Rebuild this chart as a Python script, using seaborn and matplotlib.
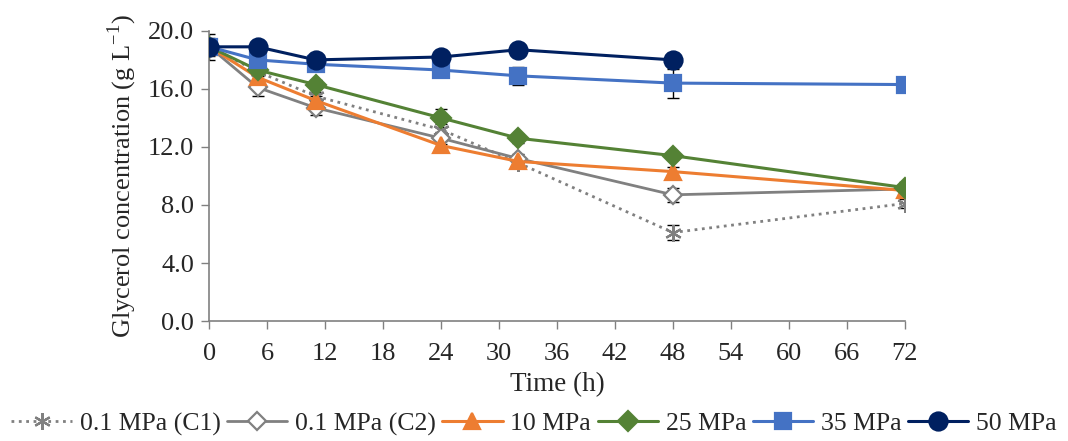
#import libraries
import numpy as np
import pandas as pd
import matplotlib
matplotlib.use('Agg')
import matplotlib.pyplot as plt
import seaborn as sns

#data
time = [0, 5, 11, 24, 32, 48, 72]
time_50 = [0, 5, 11, 24, 32, 48]

c1 = [18.9, 17.2, 15.5, 13.2, 10.9, 6.1, 8.1]
c1_err = [0.4, 0.3, 0.3, 0.4, 0.3, 0.5, 0.3]
c2 = [18.9, 16.1, 14.7, 12.6, 11.2, 8.7, 9.1]
c2_err = [0.6, 0.6, 0.5, 0.4, 0.3, 0.5, 0.3]
p10 = [18.9, 16.8, 15.2, 12.1, 11.0, 10.3, 9.0]
p10_err = [0.4, 0.3, 0.3, 0.3, 0.3, 0.3, 0.3]
p25 = [18.9, 17.3, 16.3, 14.0, 12.6, 11.4, 9.2]
p25_err = [0.4, 0.3, 0.3, 0.6, 0.3, 0.2, 0.4]
p35 = [18.9, 18.0, 17.7, 17.3, 16.9, 16.4, 16.3]
p35_err = [0.4, 0.3, 0.3, 0.3, 0.6, 1.0, 0.5]
p50 = [18.9, 18.9, 18.0, 18.2, 18.7, 18.0]
p50_err = [0.9, 0.2, 0.3, 0.2, 0.2, 0.5]

labels = ['0.1 MPa (C1)', '0.1 MPa (C2)', '10 MPa', '25 MPa', '35 MPa', '50 MPa']

sns.set_style('white')
plt.rcParams['font.family'] = ['Liberation Serif', 'DejaVu Serif']
plt.rcParams['mathtext.fontset'] = 'custom'
plt.rcParams['mathtext.rm'] = 'Liberation Serif'

fig = plt.figure(figsize=(10.68, 4.41), dpi=100)
ax = fig.add_axes([0.196, 0.272, 0.651, 0.658])

series = [
    (time, c1, c1_err, '#808080', ':', (6, 2, 0), '#808080', 12, 2.0),
    (time, c2, c2_err, '#808080', '-', 'D', 'white', 9, 2.0),
    (time, p10, p10_err, '#ED7D31', '-', '^', '#ED7D31', 12, 2.2),
    (time, p25, p25_err, '#548235', '-', 'D', '#548235', 10, 2.2),
    (time, p35, p35_err, '#4472C4', '-', 's', '#4472C4', 11, 2.2),
    (time_50, p50, p50_err, '#002060', '-', 'o', '#002060', 13, 2.2),
]

for (t, y, err, col, ls, mk, fc, ms, lw), lab in zip(series, labels):
    ax.errorbar(t, y, yerr=err, fmt='none', ecolor='black', elinewidth=1.0,
                capsize=4.5, capthick=1.0, zorder=2)
    df = pd.DataFrame({'t': t, 'y': y})
    sns.lineplot(data=df, x='t', y='y', ax=ax, color=col, linestyle=ls,
                 linewidth=lw, marker=mk, markersize=ms, markerfacecolor=fc,
                 markeredgecolor=col, markeredgewidth=1.6, label=lab, zorder=3)

ax.set_xlim(0, 72)
ax.set_ylim(0, 20)
ax.set_xticks(np.arange(0, 73, 6))
ax.set_yticks(np.arange(0, 20.1, 4))
ax.set_yticklabels(['%.1f' % v for v in np.arange(0, 20.1, 4)])
ax.set_xlabel('Time (h)', fontsize=19.5, labelpad=5)
ax.set_ylabel('Glycerol concentration (g L$^{\\mathregular{-1}}$)', fontsize=19, labelpad=6)
ax.tick_params(axis='both', labelsize=19, direction='out', length=6,
               color='#808080', width=1, bottom=True, left=True)
ax.tick_params(axis='x', pad=10)
ax.tick_params(axis='y', pad=5)
for s in ['top', 'right']:
    ax.spines[s].set_visible(False)
for s in ['left', 'bottom']:
    ax.spines[s].set_color('#808080')
    ax.spines[s].set_linewidth(1.2)

h, l = ax.get_legend_handles_labels()
ax.get_legend().remove()
fig.legend(h, l, loc='lower center', bbox_to_anchor=(0.5, -0.04), ncol=6,
           frameon=False, fontsize=18.5, handlelength=2.35, columnspacing=0.25,
           handletextpad=0.3)

fig.savefig('out.png', dpi=100)
